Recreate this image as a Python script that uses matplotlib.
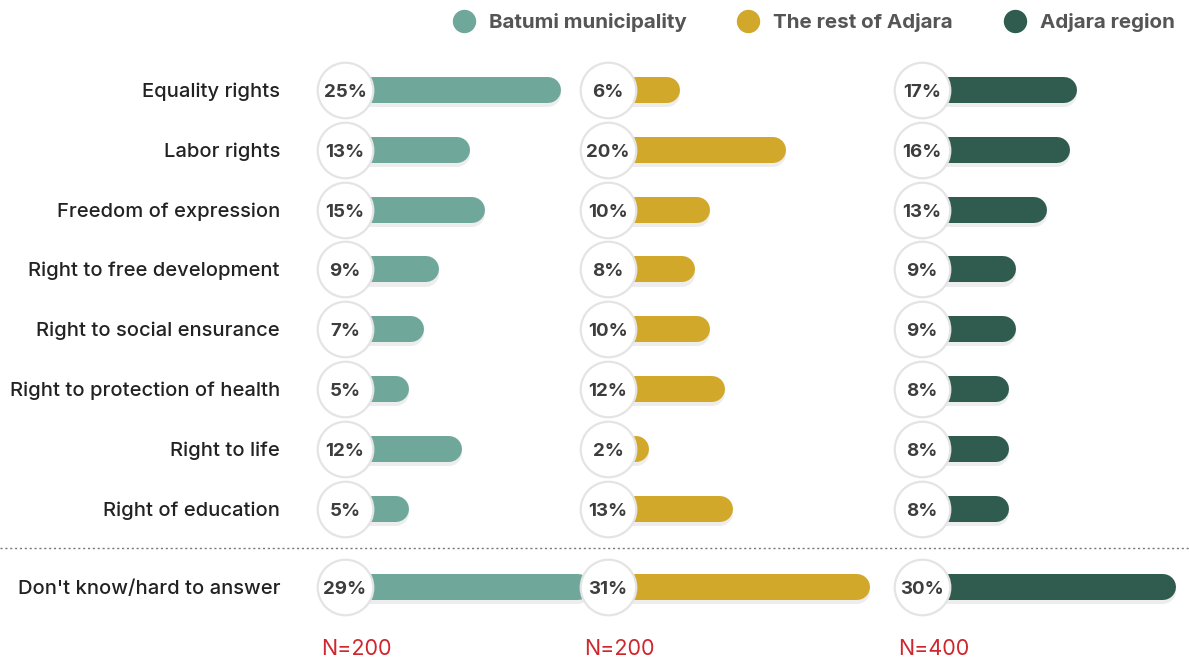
import matplotlib.pyplot as plt
import matplotlib.patheffects as pe

plt.rcParams['font.family'] = ['Inter', 'DejaVu Sans']

categories = ["Equality rights", "Labor rights", "Freedom of expression",
              "Right to free development", "Right to social ensurance",
              "Right to protection of health", "Right to life",
              "Right of education", "Don't know/hard to answer"]
groups = ["Batumi municipality", "The rest of Adjara", "Adjara region"]
batumi = [25, 13, 15, 9, 7, 5, 12, 5, 29]
rest_adjara = [6, 20, 10, 8, 10, 12, 2, 13, 31]
adjara = [17, 16, 13, 9, 9, 8, 8, 8, 30]
sample_sizes = ["N=200", "N=200", "N=400"]
colors = ["#6fa89a", "#d1a82a", "#2f5c4e"]

W, H = 1189, 659
fig = plt.figure(figsize=(W / 100, H / 100), dpi=100)
ax = fig.add_axes([0, 0, 1, 1])
ax.set_xlim(0, W)
ax.set_ylim(H, 0)
ax.axis('off')

# layout in pixels
row_y = [90 + 59.8 * i for i in range(8)] + [587]
centers = [345, 608, 922]
px_per_pct = 7.6
offset = 26
bar_h = 26
lw_pt = bar_h * 0.72

for label, y in zip(categories, row_y):
    ax.text(280, y + 7, label, ha='right', va='baseline', fontsize=14.5,
            fontweight='medium', color='#222222')

for values, cx, col, n in zip([batumi, rest_adjara, adjara], centers, colors, sample_sizes):
    for v, y in zip(values, row_y):
        end = cx + offset + px_per_pct * v - bar_h / 2
        ax.plot([cx, end], [y, y], color=col, lw=lw_pt, solid_capstyle='round', zorder=2,
                path_effects=[pe.SimpleLineShadow(offset=(0, -3), shadow_color='#000000', alpha=0.07),
                              pe.Normal()])
        ax.scatter([cx], [y], s=1600, facecolor='white', edgecolor='#e4e4e4', linewidth=1.6, zorder=3)
        ax.text(cx, y + 7, f"{v}%", ha='center', va='baseline', fontsize=13.5,
                fontweight='bold', color='#3d3d3d', zorder=4)
    ax.text(cx - 24, 647 + 8, n, ha='left', va='baseline', fontsize=15.5, color='#d0262d')

# separator
ax.plot([0, W], [548, 548], color='#777777', lw=1, ls=(0, (1.5, 2)))

# legend
legend_x = [464, 748, 1015]
for gx, name, col in zip(legend_x, groups, colors):
    ax.scatter([gx], [21], s=250, color=col, zorder=3)
    ax.text(gx + 25, 21 + 7, name, ha='left', va='baseline', fontsize=14.8,
            fontweight='bold', color='#555555')

fig.savefig("out.png", dpi=100)
